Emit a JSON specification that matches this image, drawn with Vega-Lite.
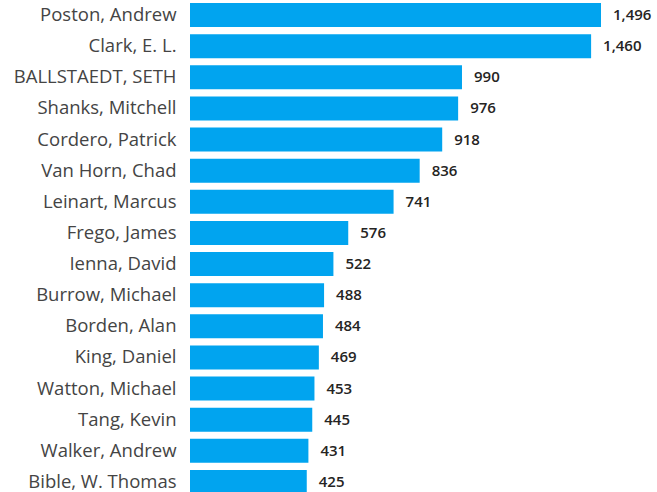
{
  "$schema": "https://vega.github.io/schema/vega-lite/v6.json",
  "autosize": "none",
  "width": 411,
  "height": 497,
  "padding": {"left": 190, "top": 0, "right": 56, "bottom": 0},
  "background": "white",
  "data": {"values": [
    {"name": "Poston, Andrew", "value": 1496},
    {"name": "Clark, E. L.", "value": 1460},
    {"name": "BALLSTAEDT, SETH", "value": 990},
    {"name": "Shanks, Mitchell", "value": 976},
    {"name": "Cordero, Patrick", "value": 918},
    {"name": "Van Horn, Chad", "value": 836},
    {"name": "Leinart, Marcus", "value": 741},
    {"name": "Frego, James", "value": 576},
    {"name": "Ienna, David", "value": 522},
    {"name": "Burrow, Michael", "value": 488},
    {"name": "Borden, Alan", "value": 484},
    {"name": "King, Daniel", "value": 469},
    {"name": "Watton, Michael", "value": 453},
    {"name": "Tang, Kevin", "value": 445},
    {"name": "Walker, Andrew", "value": 431},
    {"name": "Bible, W. Thomas", "value": 425}
  ]},
  "config": {"view": {"stroke": null}},
  "encoding": {
    "y": {
      "field": "name", "type": "nominal", "sort": {"field": "value", "order": "descending"},
      "scale": {"paddingInner": 0.23, "paddingOuter": 0.1},
      "axis": {"title": null, "domain": false, "ticks": false, "labelPadding": 14,
               "labelFont": "Open Sans", "labelFontSize": 18.5, "labelColor": "#444444", "labelLimit": 200}
    },
    "x": {
      "field": "value", "type": "quantitative",
      "scale": {"domain": [0, 1496], "nice": false},
      "axis": null
    }
  },
  "layer": [
    {"mark": {"type": "bar", "color": "#01A4EF"}},
    {"mark": {"type": "text", "align": "left", "dx": 12, "font": "Open Sans", "fontSize": 15, "fontWeight": 600, "color": "#252423"},
     "encoding": {"text": {"field": "value", "type": "quantitative", "format": ","}}}
  ]
}
